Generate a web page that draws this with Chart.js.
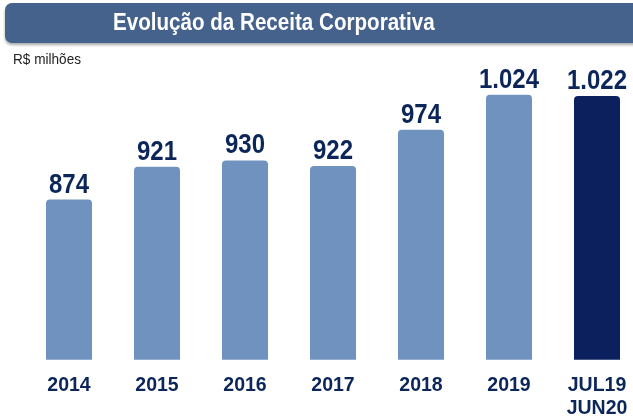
<!DOCTYPE html>
<html>
<head>
<meta charset="utf-8">
<script src="https://cdn.jsdelivr.net/npm/chart.js@4"></script>
<style>
  html, body { margin: 0; padding: 0; background: #fff; overflow: hidden; width: 633px; height: 418px; }
  #banner {
    position: absolute; left: 5px; top: 3px; width: 660px; height: 40px;
    background: #44628c; border-radius: 7px;
    box-shadow: 0 2px 3px rgba(0,0,0,0.35);
  }
  #title {
    position: absolute; left: 113px; top: 8px;
    font: bold 20.6px "Liberation Sans", Arial, sans-serif; color: #fff; white-space: nowrap;
    transform: scaleY(1.15); transform-origin: 0 0;
  }
  #unit {
    position: absolute; left: 13px; top: 51px;
    font: 13.6px "Liberation Sans", Arial, sans-serif; color: #222;
    transform: scaleY(1.12); transform-origin: 0 0;
  }
  #wrap { position: absolute; left: 0; top: 0; width: 660px; height: 440px; }
</style>
</head>
<body>
<div id="wrap"><canvas id="myChart"></canvas></div>
<div id="banner"></div>
<div id="title">Evolução da Receita Corporativa</div>
<div id="unit">R$ milhões</div>
<script>
const categories = ['2014', '2015', '2016', '2017', '2018', '2019', ['JUL19', 'JUN20']];
const receita = [874, 921, 930, 922, 974, 1024, 1022];
const barColors = ['#6f93be', '#6f93be', '#6f93be', '#6f93be', '#6f93be', '#6f93be', '#0b205d'];

function formatBR(v) {
    return String(v).replace(/\B(?=(\d{3})+(?!\d))/g, '.');
}

// valores acima das barras (levemente esticados como no original)
const valueLabels = {
    id: 'valueLabels',
    afterDatasetsDraw(chart) {
        const ctx = chart.ctx;
        const meta = chart.getDatasetMeta(0);
        ctx.font = 'bold 24px "Liberation Sans", Arial, sans-serif';
        ctx.fillStyle = '#0c2659';
        ctx.textAlign = 'center';
        ctx.textBaseline = 'alphabetic';
        meta.data.forEach((bar, i) => {
            ctx.save();
            ctx.translate(bar.x, bar.y - 7);
            ctx.scale(1, 1.16);
            ctx.fillText(formatBR(receita[i]), 0, 0);
            ctx.restore();
        });
    }
};

new Chart(document.getElementById('myChart').getContext('2d'), {
    type: 'bar',
    data: {
        labels: categories,
        datasets: [{
            data: receita,
            backgroundColor: barColors,
            borderRadius: { topLeft: 4, topRight: 4, bottomLeft: 0, bottomRight: 0 },
            borderSkipped: false,
            barPercentage: 0.523,
            categoryPercentage: 1
        }]
    },
    options: {
        responsive: true,
        maintainAspectRatio: false,
        animation: false,
        layout: { padding: { left: 25, right: 19, top: 60, bottom: 5 } },
        plugins: { legend: { display: false }, tooltip: { enabled: false } },
        scales: {
            x: {
                grid: { display: false, drawTicks: false },
                border: { display: false },
                ticks: {
                    padding: 14.6,
                    color: '#0c2659',
                    font: { family: '"Liberation Sans", Arial, sans-serif', size: 19.5, weight: 'bold', lineHeight: 1.18 },
                    maxRotation: 0,
                    autoSkip: false
                }
            },
            y: {
                display: false,
                min: 645,
                max: 1073.6
            }
        }
    },
    plugins: [valueLabels]
});
</script>
</body>
</html>
